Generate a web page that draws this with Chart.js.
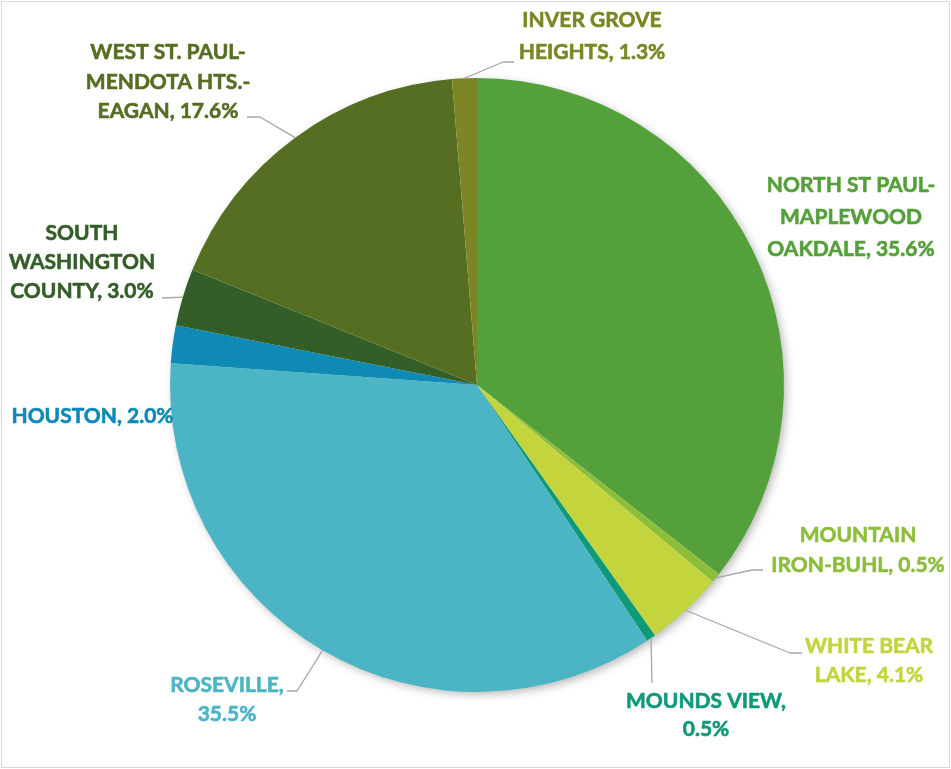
<!DOCTYPE html>
<html><head><meta charset="utf-8">
<script src="https://cdn.jsdelivr.net/npm/chart.js@4"></script>
<style>html,body{margin:0;padding:0;background:#fff}</style>
</head><body>
<canvas id="c" width="951" height="769"></canvas>
<script>
// ---- data ----
const categories = [
  "NORTH ST PAUL-\nMAPLEWOOD\nOAKDALE",
  "MOUNTAIN\nIRON-BUHL",
  "WHITE BEAR\nLAKE",
  "MOUNDS VIEW",
  "ROSEVILLE",
  "HOUSTON",
  "SOUTH\nWASHINGTON\nCOUNTY",
  "WEST ST. PAUL-\nMENDOTA HTS.-\nEAGAN",
  "INVER GROVE\nHEIGHTS"
];
const values = [35.6, 0.5, 4.1, 0.5, 35.5, 2.0, 3.0, 17.6, 1.3];

// ---- styles / layout ----
const colors = ["#54A03A","#8DBE3A","#C4D43C","#0E9A78","#4BB5C6","#0E8AB4","#345E28","#566E22","#7C8624"];
const labelColors = ["#54A03A","#8DBE3A","#C4D43C","#0E9A78","#4BB5C6","#0E8AB4","#345E28","#566E22","#7C8624"];
// cx: text centre x, ys: cap-middle y of each line, brk: value on its own line, lead: leader points [end, elbow]
const labelLayout = [
  {cx:851, ys:[184,216,248.5]},
  {cx:858, ys:[534,564], lead:[[763,570],[752,570]]},
  {cx:869, ys:[645.5,674], lead:[[802,653],[790,653]]},
  {cx:706, ys:[700,728], brk:true, lead:[[652,683],[652,683]]},
  {cx:227, ys:[684,713], brk:true, lead:[[287,691],[297,691]]},
  {cx:92.5, ys:[415]},
  {cx:82, ys:[232.5,261,290], lead:[[162,298],[162,298]]},
  {cx:168, ys:[51.7,81,110], lead:[[247,117],[260,117]]},
  {cx:592, ys:[19.5,51], lead:[[514,62],[503,62]]}
];
const FONT_SIZE = 21;
const CAP = 15;

const shadowPlugin = {
  id:'shadow',
  beforeDatasetsDraw(chart){
    const arc = chart.getDatasetMeta(0).data[0];
    if(!arc) return;
    const {x,y,outerRadius} = arc.getProps(['x','y','outerRadius'],true);
    const ctx = chart.ctx;
    ctx.save();
    ctx.shadowColor = 'rgba(0,0,0,0.3)';
    ctx.shadowBlur = 10;
    ctx.shadowOffsetX = 3;
    ctx.shadowOffsetY = 3;
    ctx.fillStyle = '#ffffff';
    ctx.beginPath();
    ctx.arc(x,y,outerRadius-1,0,Math.PI*2);
    ctx.fill();
    ctx.restore();
  }
};

const labelPlugin = {
  id:'labels',
  afterDraw(chart){
    const ctx = chart.ctx;
    const meta = chart.getDatasetMeta(0);
    ctx.save();
    // frame
    ctx.strokeStyle = '#d9d9d9';
    ctx.lineWidth = 1;
    ctx.strokeRect(1.5,1.5,chart.width-3,chart.height-3);
    meta.data.forEach((arc,i)=>{
      const L = labelLayout[i];
      const p = arc.getProps(['x','y','startAngle','endAngle','outerRadius'],true);
      const mid = (p.startAngle+p.endAngle)/2;
      const ax = p.x + Math.cos(mid)*p.outerRadius;
      const ay = p.y + Math.sin(mid)*p.outerRadius;
      if(L.lead){
        ctx.strokeStyle = '#a6a6a6';
        ctx.lineWidth = 1.3;
        ctx.beginPath();
        ctx.moveTo(L.lead[0][0],L.lead[0][1]);
        ctx.lineTo(L.lead[1][0],L.lead[1][1]);
        ctx.lineTo(ax,ay);
        ctx.stroke();
      }
      const valTxt = values[i].toFixed(1)+'%';
      let lines = categories[i].split('\n');
      if(L.brk){ lines[lines.length-1] += ','; lines.push(valTxt); }
      else { lines[lines.length-1] += ', '+valTxt; }
      ctx.fillStyle = labelColors[i];
      ctx.strokeStyle = labelColors[i];
      ctx.lineWidth = 0.6;
      ctx.lineJoin = 'round';
      ctx.font = `bold ${FONT_SIZE}px Lato`;
      ctx.textAlign = 'center';
      ctx.textBaseline = 'alphabetic';
      lines.forEach((t,k)=>{
        ctx.fillText(t, L.cx, L.ys[k]+CAP/2);
        ctx.strokeText(t, L.cx, L.ys[k]+CAP/2);
      });
    });
    ctx.restore();
  }
};

new Chart(document.getElementById('c'),{
  type:'pie',
  data:{
    labels: categories.map(s=>s.replace(/\n/g,' ')),
    datasets:[{data:values, backgroundColor:colors, borderWidth:0, hoverOffset:0}]
  },
  options:{
    responsive:false,
    animation:false,
    layout:{padding:{left:170,right:167,top:78,bottom:77}},
    plugins:{legend:{display:false},tooltip:{enabled:false}}
  },
  plugins:[shadowPlugin,labelPlugin]
});
</script>
</body></html>
